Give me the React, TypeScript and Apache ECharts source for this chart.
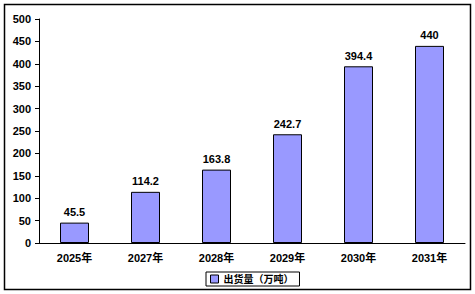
import React, { useEffect, useRef } from "react";
import * as echarts from "echarts";

const categories = ["2025年", "2027年", "2028年", "2029年", "2030年", "2031年"];
const shipments = [45.5, 114.2, 163.8, 242.7, 394.4, 440];
const seriesName = "出货量（万吨）";

const FONT = "'Liberation Sans', 'Noto Sans CJK SC', sans-serif";

export default function App() {
  const ref = useRef<HTMLDivElement>(null);
  useEffect(() => {
    if (!ref.current) return;
    const chart = echarts.init(ref.current, null, { renderer: "svg" });
    chart.setOption({
      animation: false,
      backgroundColor: "#fff",
      grid: { left: 39, right: 10, top: 19, bottom: 51 },
      graphic: [
        {
          type: "rect",
          shape: { x: 4.5, y: 4.5, width: 466, height: 285 },
          style: { fill: "none", stroke: "#000", lineWidth: 1.5 },
          z: 10,
        },
      ],
      legend: {
        left: 206,
        top: 272,
        itemWidth: 8,
        itemHeight: 8,
        itemGap: 4,
        padding: [2, 6, 2, 4],
        borderColor: "#000",
        borderWidth: 1,
        textStyle: { fontFamily: FONT, fontSize: 10, fontWeight: "bold", color: "#000" },
        data: [{ name: seriesName, icon: "rect", itemStyle: { borderColor: "#000", borderWidth: 1 } }],
      },
      xAxis: {
        type: "category",
        data: categories,
        axisLine: { lineStyle: { color: "#000", width: 1 } },
        axisTick: { inside: true, length: 4, lineStyle: { color: "#000" } },
        axisLabel: { margin: 9, fontFamily: FONT, fontSize: 11, fontWeight: "bold", color: "#000" },
      },
      yAxis: {
        type: "value",
        min: 0,
        max: 500,
        interval: 50,
        splitLine: { show: false },
        axisLine: { show: true, lineStyle: { color: "#000", width: 1 } },
        axisTick: { show: true, length: 4, lineStyle: { color: "#000" } },
        axisLabel: { margin: 8, fontFamily: FONT, fontSize: 11, fontWeight: "bold", color: "#000" },
      },
      series: [
        {
          name: seriesName,
          type: "bar",
          data: shipments,
          barWidth: 29,
          itemStyle: { color: "#9999FF", borderColor: "#000", borderWidth: 1 },
          label: {
            show: true,
            position: "top",
            distance: 5,
            fontFamily: FONT,
            fontSize: 11,
            fontWeight: "bold",
            color: "#000",
          },
        },
      ],
    });
    return () => chart.dispose();
  }, []);
  return (
    <div
      ref={ref}
      style={{ position: "fixed", left: 0, top: 0, width: 475, height: 294, background: "#fff" }}
    />
  );
}
